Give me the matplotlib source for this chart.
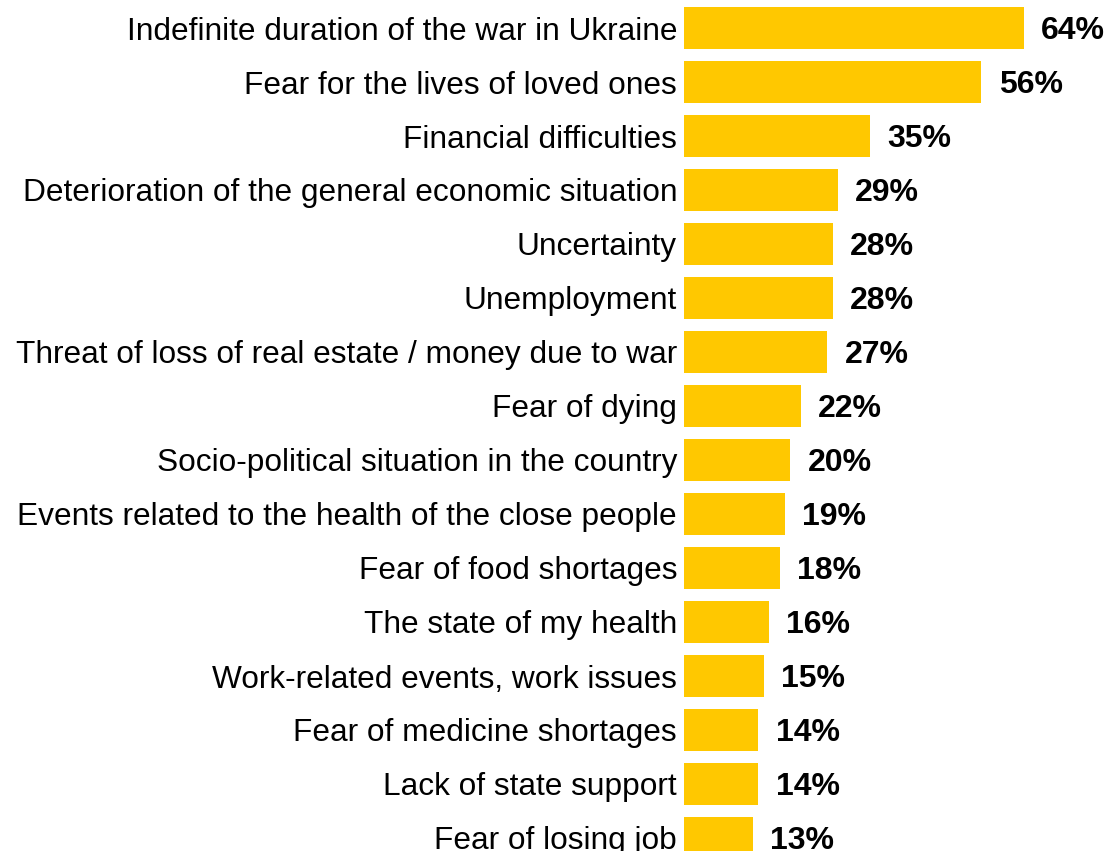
import matplotlib

matplotlib.use("Agg")
import matplotlib.pyplot as plt

categories = [
    "Indefinite duration of the war in Ukraine",
    "Fear for the lives of loved ones",
    "Financial difficulties",
    "Deterioration of the general economic situation",
    "Uncertainty",
    "Unemployment",
    "Threat of loss of real estate / money due to war",
    "Fear of dying",
    "Socio-political situation in the country",
    "Events related to the health of the close people",
    "Fear of food shortages",
    "The state of my health",
    "Work-related events, work issues",
    "Fear of medicine shortages",
    "Lack of state support",
    "Fear of losing job",
]
values = [64, 56, 35, 29, 28, 28, 27, 22, 20, 19, 18, 16, 15, 14, 14, 13]

BAR_COLOR = "#FFC800"
W, H = 1112, 851
PX_PER_PCT = 5.31
BAR_X0 = 684
ROW0, ROW_STEP = 28, 54

plt.rcParams["font.family"] = ["Liberation Sans", "DejaVu Sans"]

fig = plt.figure(figsize=(W / 100, H / 100), dpi=100)
ax = fig.add_axes([BAR_X0 / W, 0, 1 - BAR_X0 / W, 1])

pos = list(range(len(categories)))
ax.barh(pos, values, height=42 / ROW_STEP, color=BAR_COLOR)

ax.set_xlim(0, (W - BAR_X0) / PX_PER_PCT)
ax.set_ylim((H - ROW0) / ROW_STEP, -ROW0 / ROW_STEP)

ax.set_yticks(pos)
ax.set_yticklabels(categories, fontsize=22.8)
ax.tick_params(axis="y", length=0, pad=5)
ax.set_xticks([])
for s in ax.spines.values():
    s.set_visible(False)

for y, v in zip(pos, values):
    ax.annotate(
        f"{v}%",
        xy=(v, y),
        xytext=(12.5, -2),
        textcoords="offset points",
        ha="left",
        va="center",
        fontsize=23,
        fontweight="bold",
        annotation_clip=False,
    )

fig.savefig("out.png", dpi=100, facecolor="white")
